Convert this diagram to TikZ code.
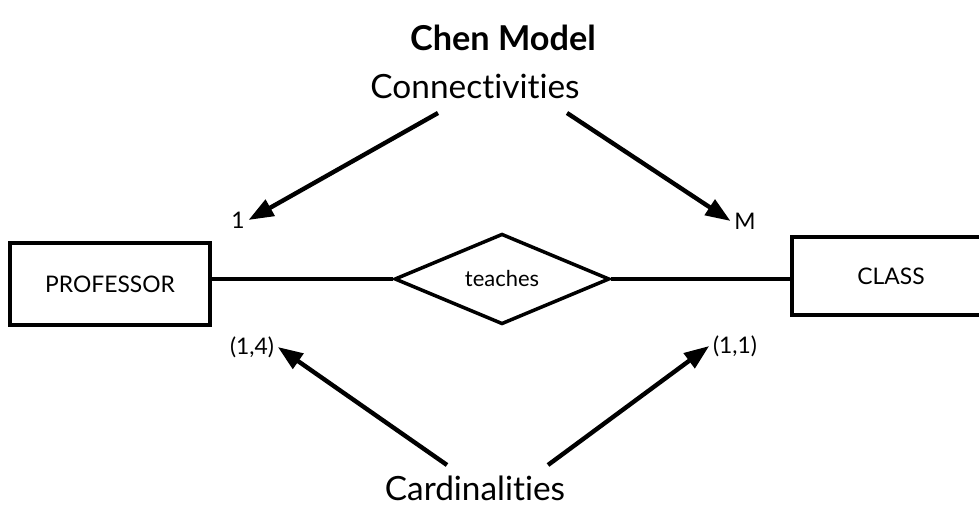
\documentclass[tikz,border=0pt]{standalone}
\usepackage{fontspec}
\setmainfont{Lato}[Ligatures=NoCommon]
\usetikzlibrary{arrows.meta,positioning,shapes.geometric}

\begin{document}
\begin{tikzpicture}[
      ent/.style={draw, line width=2pt, minimum width=4cm, minimum height=1.64cm,
                  text centered, font=\fontsize{13}{15}\selectfont},
      rel/.style={draw, diamond, line width=2pt, inner sep=0pt, minimum width=4.3cm,
                  minimum height=1.66cm, font=\fontsize{12.5}{14}\selectfont},
      lbl/.style={font=\fontsize{19}{22}\selectfont},
      num/.style={font=\fontsize{13}{15}\selectfont, inner sep=2pt},
      arr/.style={-{Triangle[length=0.5cm,width=0.36cm]}, line width=2.5pt},
      conn/.style={line width=2.5pt}
    ]
      \useasboundingbox (0,0) rectangle (19.58,10.14);
      \node[font=\bfseries\fontsize{19.5}{22}\selectfont] (title) at (10.06,9.38) {Chen Model};
      \node[lbl] (connect) at (9.5,8.42) {Connectivities};
      \node[lbl] (card) at (9.5,0.38) {Cardinalities};
      % entities and relationship
      \node[ent] (prof) at (2.2,4.46) {PROFESSOR};
      \node[rel] (teach) at (10.04,4.56) {teaches};
      \node[ent, minimum width=3.96cm, minimum height=1.56cm] (class) at (17.82,4.62) {CLASS};
      \draw[conn] (teach.west) -- (teach.west -| prof.east);
      \draw[conn] (teach.east) -- (teach.east -| class.west);
      % labels
      \node[num] (one) at (4.76,5.74) {1};
      \node[num] (many) at (14.9,5.72) {M};
      \node[num] (cprof) at (5.04,3.2) {(1,4)};
      \node[num] (cclass) at (14.7,3.22) {(1,1)};
      \coordinate (c1) at (8.76,7.88);
      \coordinate (c2) at (11.34,7.88);
      \coordinate (d1) at (8.94,0.84);
      \coordinate (d2) at (10.96,0.84);
      \draw[arr] (c1) -- (one.east);
      \draw[arr] (c2) -- (many.west);
      \draw[arr] (d1) -- (cprof.east);
      \draw[arr] (d2) -- (cclass.west);
    \end{tikzpicture}
\end{document}
